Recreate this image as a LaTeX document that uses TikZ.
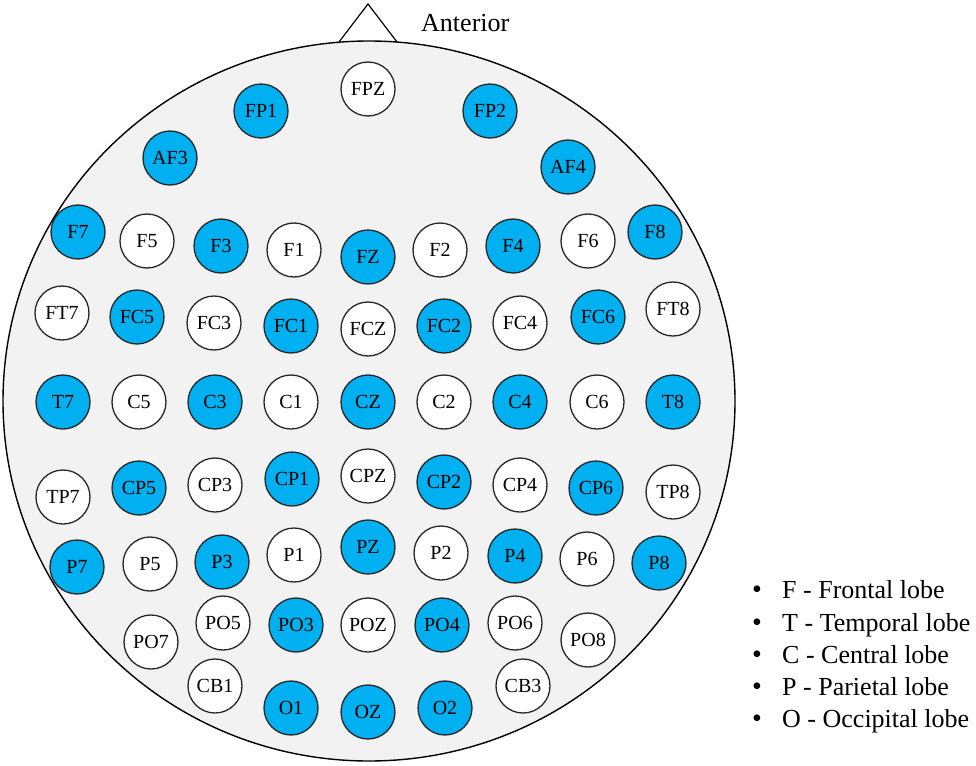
\documentclass[tikz,border=0pt]{standalone}
\usepackage{fontspec}
\setmainfont{Liberation Serif}
\definecolor{eegblue}{HTML}{00B0F0}
\definecolor{headgray}{HTML}{F2F2F2}
\definecolor{rimgray}{HTML}{262626}
\begin{document}
\begin{tikzpicture}[x=1pt,y=-1pt,
  electrode/.style={circle,draw=rimgray,line width=1.3pt,minimum size=54pt,inner sep=0pt,font=\fontsize{20}{20}\selectfont},
  active/.style={electrode,fill=eegblue},
  passive/.style={electrode,fill=white},
  legendtext/.style={anchor=base west,inner sep=0pt,font=\fontsize{26}{26}\selectfont},
  legendbullet/.style={anchor=base,inner sep=0pt,font=\fontsize{28}{28}\selectfont}]
\useasboundingbox (0,0) rectangle (976,765);
% nose
\draw[fill=white,line width=1.2pt] (339,42) -- (368,4) -- (397,42);
% head
\draw[fill=headgray,line width=1.4pt] (369,401) ellipse [x radius=366pt,y radius=360pt];
\node[anchor=base west,inner sep=0pt,font=\fontsize{26}{26}\selectfont] (anterior) at (421,32) {Anterior};
% active electrodes
\foreach \n/\x/\y in {FP1/261/111,FP2/490/111,AF3/170/158,AF4/568/167,
  F7/78/232,F3/221/246,FZ/368/257,F4/513/246,F8/655/232,
  FC5/137/317,FC1/291/326,FC2/444/326,FC6/598/317,
  T7/63/402,C3/215/402,CZ/368/402,C4/520/402,T8/673/402,
  CP5/139/488,CP1/292/479,CP2/444/482,CP6/596/488,
  P7/77/567,P3/222/562,PZ/368/547,P4/515/556,P8/659/563,
  PO3/296/625,PO4/442/625,O1/291/708,OZ/368/712,O2/445/708}
  \node[active] (\n) at (\x,\y) {\n};
% passive electrodes
\foreach \n/\x/\y in {FPZ/368/89,F5/147/241,F1/294/250,F2/440/250,F6/588/241,
  FT7/62/313,FC3/214/323,FCZ/368/329,FC4/520/323,FT8/673/309,
  C5/139/402,C1/291/402,C2/444/402,C6/597/402,
  TP7/63/497,CP3/215/485,CPZ/368/476,CP4/520/485,TP8/673/492,
  P5/150/564,P1/294/555,P2/441/553,P6/587/559,
  PO7/151/642,PO5/223/623,POZ/368/625,PO6/515/623,PO8/588/640,
  CB1/215/686,CB3/523/686}
  \node[passive] (\n) at (\x,\y) {\n};
% legend
\foreach \i/\t/\yy in {1/F - Frontal lobe/598,2/T - Temporal lobe/631,3/C - Central lobe/663,4/P - Parietal lobe/695,5/O - Occipital lobe/727}{
  \node[legendbullet] (bullet\i) at (757,\yy) {•};
  \node[legendtext] (legend\i) at (782,\yy) {\t};
}
\end{tikzpicture}
\end{document}
